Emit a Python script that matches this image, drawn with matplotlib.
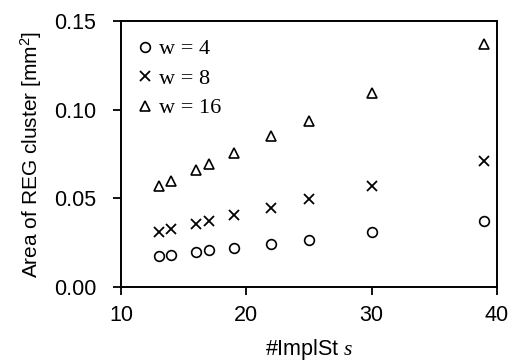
import matplotlib
matplotlib.use("Agg")
import matplotlib.pyplot as plt

x_s = [13, 14, 16, 17, 19, 22, 25, 30, 39]
area_w4 = [0.0177, 0.0182, 0.0197, 0.0207, 0.0220, 0.0244, 0.0267, 0.0310, 0.0374]
area_w8 = [0.0310, 0.0325, 0.0357, 0.0370, 0.0404, 0.0445, 0.0494, 0.0571, 0.0712]
area_w16 = [0.0568, 0.0596, 0.0662, 0.0692, 0.0754, 0.0850, 0.0938, 0.1094, 0.1370]
labels = ["w = 4", "w = 8", "w = 16"]
x_ticks = [10, 20, 30, 40]
y_ticks = [0.00, 0.05, 0.10, 0.15]

plt.rcParams['font.family'] = ['Liberation Sans', 'DejaVu Sans']
plt.rcParams['mathtext.fontset'] = 'custom'
plt.rcParams['mathtext.it'] = 'Liberation Serif:italic'
plt.rcParams['mathtext.rm'] = 'Liberation Sans'

fig = plt.figure(figsize=(5.16, 3.64), dpi=100)
ax = fig.add_axes([0.2345, 0.2115, 0.7285, 0.7305])

ax.plot(x_s, area_w4, linestyle='none', marker='o', markersize=7, markerfacecolor='none',
        markeredgecolor='black', markeredgewidth=1.2, label=labels[0])
ax.plot(x_s, area_w8, linestyle='none', marker='x', markersize=7,
        color='black', markeredgewidth=1.3, label=labels[1])
ax.plot(x_s, area_w16, linestyle='none', marker='^', markersize=7, markerfacecolor='none',
        markeredgecolor='black', markeredgewidth=1.2, label=labels[2])

ax.set_xlim(10, 40)
ax.set_ylim(0, 0.15)
ax.set_xticks(x_ticks)
ax.set_yticks(y_ticks)
ax.set_yticklabels([f"{v:.2f}" for v in y_ticks])
ax.tick_params(direction='out', length=6, width=1.3, labelsize=15.5, colors='black')
ax.tick_params(axis='y', pad=12)
ax.tick_params(axis='x', pad=7)
for sp in ax.spines.values():
    sp.set_linewidth(1.4)
    sp.set_color('black')

ax.set_xlabel("#ImplSt $s$", fontsize=15.5, labelpad=8)
ax.set_ylabel("Area of REG cluster [mm$^2$]", fontsize=15, labelpad=7)

leg = ax.legend(loc='upper left', frameon=False, markerscale=1.0, handlelength=0.6,
                handletextpad=0.3, labelspacing=0.4, borderaxespad=0.4,
                prop={'family': 'Liberation Serif', 'size': 16})

fig.savefig("out.png", dpi=100)
